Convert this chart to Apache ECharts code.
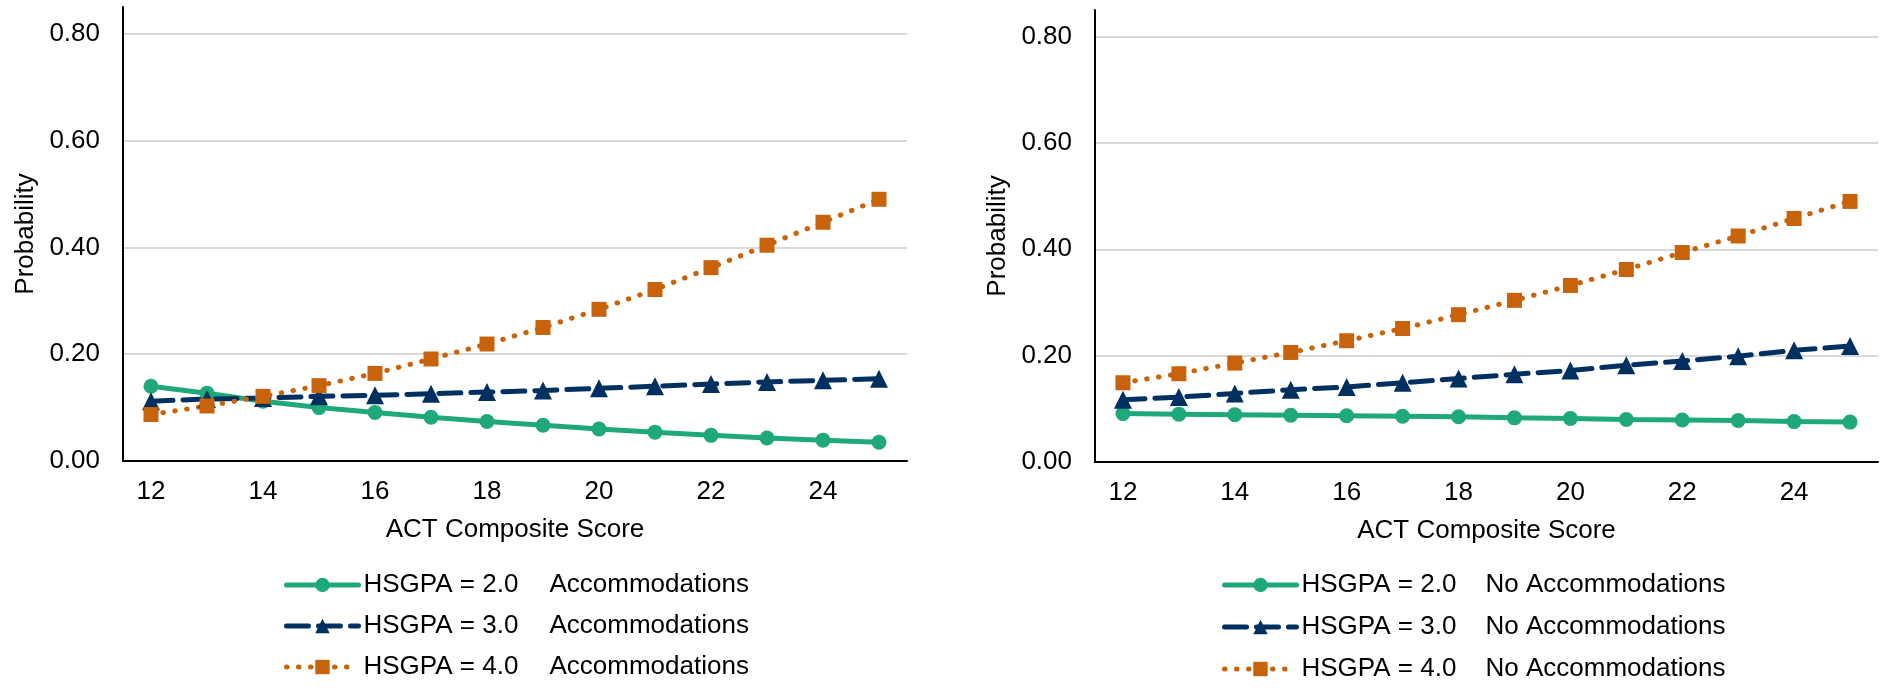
<!DOCTYPE html>
<html>
<head>
<meta charset="utf-8">
<script src="https://cdn.jsdelivr.net/npm/echarts@6/dist/echarts.min.js"></script>
<style>
  html, body { margin: 0; padding: 0; background: #fff; }
  #chart { width: 1887px; height: 688px; }
</style>
</head>
<body>
<div id="chart"></div>
<script>
// ACT composite score categories
const scores = ['12', '13', '14', '15', '16', '17', '18', '19', '20', '21', '22', '23', '24', '25'];

// Predicted probabilities, students tested with accommodations
const accGpa2 = [0.140, 0.127, 0.112, 0.100, 0.091, 0.082, 0.074, 0.067, 0.060, 0.054, 0.048, 0.043, 0.039, 0.035];
const accGpa3 = [0.112, 0.116, 0.118, 0.121, 0.123, 0.126, 0.129, 0.132, 0.136, 0.140, 0.144, 0.148, 0.151, 0.154];
const accGpa4 = [0.087, 0.103, 0.121, 0.141, 0.164, 0.191, 0.219, 0.250, 0.284, 0.321, 0.362, 0.404, 0.447, 0.490];

// Predicted probabilities, students tested without accommodations
const noAccGpa2 = [0.091, 0.090, 0.089, 0.088, 0.087, 0.086, 0.085, 0.083, 0.082, 0.080, 0.079, 0.078, 0.076, 0.075];
const noAccGpa3 = [0.117, 0.122, 0.129, 0.136, 0.141, 0.149, 0.157, 0.165, 0.172, 0.182, 0.190, 0.199, 0.210, 0.218];
const noAccGpa4 = [0.149, 0.166, 0.186, 0.206, 0.228, 0.251, 0.277, 0.304, 0.332, 0.362, 0.394, 0.425, 0.458, 0.490];

const seriesNames = ['HSGPA = 2.0', 'HSGPA = 3.0', 'HSGPA = 4.0'];

const FONT = '"Liberation Sans", Arial, sans-serif';
const FS = 26;
const GREEN = '#1FA87B';
const NAVY = '#00305F';
const ORANGE = '#C8630B';

const styles = [
  { color: GREEN, symbol: 'circle', size: 15, line: { width: 5, type: 'solid', cap: 'round' } },
  { color: NAVY, symbol: 'triangle', size: 18, line: { width: 5, type: [22, 10], cap: 'round' } },
  { color: ORANGE, symbol: 'rect', size: 15, line: { width: 5, type: [0.5, 11.5], cap: 'round' } }
];

function makeSeries(values, idx, gridIdx) {
  const s = styles[idx];
  return {
    name: seriesNames[idx],
    type: 'line',
    xAxisIndex: gridIdx,
    yAxisIndex: gridIdx,
    data: values,
    symbol: s.symbol,
    symbolSize: s.size,
    showAllSymbol: true,
    smooth: false,
    itemStyle: { color: s.color, borderWidth: 0 },
    lineStyle: Object.assign({ color: s.color }, s.line),
    emphasis: { disabled: true },
    animation: false
  };
}

function xAxis(gridIdx) {
  return {
    type: 'category',
    gridIndex: gridIdx,
    data: scores,
    boundaryGap: true,
    axisLine: { show: true, lineStyle: { color: '#000', width: 2 } },
    axisTick: { show: false },
    axisLabel: { interval: 1, color: '#000', fontFamily: FONT, fontSize: FS, margin: 18 },
    splitLine: { show: false },
    name: 'ACT Composite Score',
    nameLocation: 'middle',
    nameGap: 56,
    nameTextStyle: { color: '#000', fontFamily: FONT, fontSize: FS }
  };
}

function yAxis(gridIdx) {
  return {
    type: 'value',
    gridIndex: gridIdx,
    min: 0,
    max: 0.85,
    interval: 0.2,
    axisLine: { show: true, lineStyle: { color: '#000', width: 2 } },
    axisTick: { show: false },
    axisLabel: {
      color: '#000', fontFamily: FONT, fontSize: FS, margin: 23,
      showMaxLabel: false,
      formatter: v => (v > 0.81 ? '' : v.toFixed(2))
    },
    splitLine: { show: true, showMinLine: false, showMaxLine: false, lineStyle: { color: '#D9D9D9', width: 2 } },
    name: 'Probability',
    nameLocation: 'middle',
    nameGap: 84,
    nameTextStyle: { color: '#000', fontFamily: FONT, fontSize: FS }
  };
}

// Legend entries carry the same line look as the series they stand for
function legendData() {
  return seriesNames.map((name, i) => ({
    name: name,
    itemStyle: { color: styles[i].color, borderWidth: 0 },
    lineStyle: Object.assign({ color: styles[i].color }, styles[i].line)
  }));
}

function legend(left, top, gap, caption, capOffset) {
  return {
    orient: 'vertical',
    left: left,
    top: top,
    width: 600,
    height: 140,
    padding: 0,
    itemWidth: 72,
    itemHeight: 18,
    itemGap: gap,
    selectedMode: false,
    data: legendData(),
    lineStyle: { width: 5 },
    formatter: name => '{h|' + name + '}{c|' + caption + '}',
    textStyle: {
      color: '#000', fontFamily: FONT, fontSize: FS,
      rich: {
        h: { width: capOffset, color: '#000', fontFamily: FONT, fontSize: FS },
        c: { color: '#000', fontFamily: FONT, fontSize: FS }
      }
    }
  };
}

const chart = echarts.init(document.getElementById('chart'), null, { renderer: 'canvas' });
chart.setOption({
  backgroundColor: '#fff',
  animation: false,
  grid: [
    { left: 123, top: 7, width: 784, height: 454, containLabel: false },
    { left: 1095, top: 10, width: 783, height: 452, containLabel: false }
  ],
  xAxis: [xAxis(0), xAxis(1)],
  yAxis: [yAxis(0), yAxis(1)],
  legend: [
    legend(284, 572, 15, 'Accommodations', 186),
    legend(1222, 572, 16, 'No Accommodations', 184)
  ],
  series: [
    makeSeries(accGpa2, 0, 0),
    makeSeries(accGpa3, 1, 0),
    makeSeries(accGpa4, 2, 0),
    makeSeries(noAccGpa2, 0, 1),
    makeSeries(noAccGpa3, 1, 1),
    makeSeries(noAccGpa4, 2, 1)
  ]
});
</script>
</body>
</html>
